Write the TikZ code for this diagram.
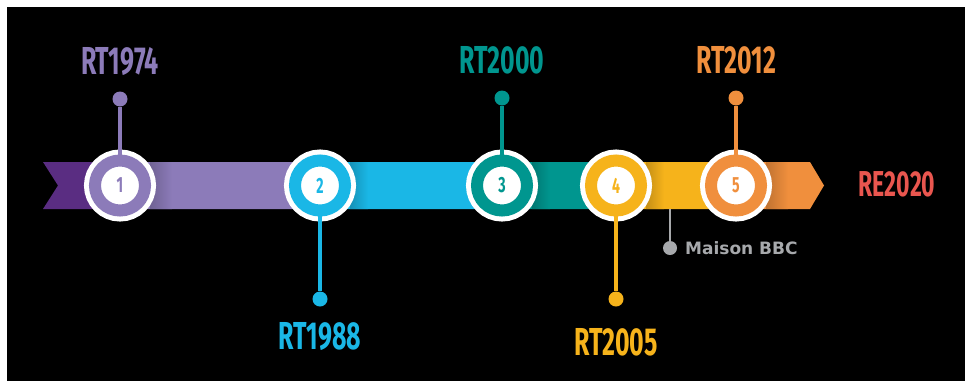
\documentclass[tikz,border=0pt]{standalone}
\usepackage{fontspec}
\newfontfamily\condfont[FakeStretch=0.64]{Fira Sans}
\newfontfamily\bbcfont{DejaVu Sans}
\usetikzlibrary{positioning}
\definecolor{purpD}{HTML}{5A2D82}
\definecolor{purpL}{HTML}{8C7BB9}
\definecolor{cyanC}{HTML}{1AB7E6}
\definecolor{tealC}{HTML}{00968F}
\definecolor{yellC}{HTML}{F6B31B}
\definecolor{orngC}{HTML}{F08F3D}
\definecolor{grayC}{HTML}{A7A9AC}
\definecolor{redC}{HTML}{E9564F}

\begin{document}
\begin{tikzpicture}[x=1pt,y=-1pt,
  ring/.style={circle, fill=white, draw=white, double=#1, double distance=12pt,
    line width=5pt, minimum size=50pt, inner sep=0pt, text=#1,
    font=\condfont\bfseries\fontsize{22}{22}\selectfont},
  stem/.style={draw=#1, line width=4.5pt},
  dot/.style={circle, fill=#1, minimum size=15pt, inner sep=0pt},
  year/.style={text=#1, inner sep=0pt,
    font=\condfont\bfseries\fontsize{39}{39}\selectfont},
  node distance=16pt]

\fill[white] (0,0) rectangle (965,381);
\fill[black] (7,7) rectangle (965,381);

% band
\begin{scope}
  \clip (43,162) -- (810,162) -- (824,185.5) -- (810,209) -- (43,209) -- (58,185.5) -- cycle;
  \fill[purpD] (40,150) rectangle (120,220);
  \fill[purpL] (120,150) rectangle (320,220);
  \shade[left color=purpL!80!black, right color=purpL] (150,150) rectangle (172,220);
  \fill[cyanC] (320,150) rectangle (502,220);
  \shade[left color=cyanC!80!black, right color=cyanC] (350,150) rectangle (368,220);
  \fill[tealC] (502,150) rectangle (616,220);
  \shade[left color=tealC!80!black, right color=tealC] (532,150) rectangle (550,220);
  \fill[yellC] (616,150) rectangle (736,220);
  \shade[left color=yellC!80!black, right color=yellC] (646,150) rectangle (664,220);
  \fill[orngC] (736,150) rectangle (830,220);
  \shade[left color=orngC!80!black, right color=orngC] (766,150) rectangle (788,220);
\end{scope}

% milestones
\node[ring=purpL] (c1) at (120,185.5) {1};
\node[ring=cyanC] (c2) at (320,185.5) {2};
\node[ring=tealC] (c3) at (502,185.5) {3};
\node[ring=yellC] (c4) at (616,185.5) {4};
\node[ring=orngC] (c5) at (736,185.5) {5};

\node[dot=purpL] (d1) at (120,99) {};
\node[dot=cyanC] (d2) at (320,299) {};
\node[dot=tealC] (d3) at (502,98) {};
\node[dot=yellC] (d4) at (616,299) {};
\node[dot=orngC] (d5) at (736,98) {};

\draw[stem=purpL] (d1) -- ([yshift=29pt]c1.center);
\draw[stem=cyanC] (d2) -- ([yshift=-29pt]c2.center);
\draw[stem=tealC] (d3) -- ([yshift=29pt]c3.center);
\draw[stem=yellC] (d4) -- ([yshift=-29pt]c4.center);
\draw[stem=orngC] (d5) -- ([yshift=29pt]c5.center);

\node[year=purpL, above=16pt of d1] (y1) {RT1974};
\node[year=cyanC, below=16pt of d2] (y2) {RT1988};
\node[year=tealC, above=16pt of d3] (y3) {RT2000};
\node[year=yellC, below=22pt of d4] (y4) {RT2005};
\node[year=orngC, above=16pt of d5] (y5) {RT2012};

% side note
\coordinate (m0) at (670,209);
\node[dot=grayC, minimum size=14pt] (dm) at (670,248) {};
\draw[grayC, line width=2.2pt] (m0) -- (dm);
\node[anchor=west, inner sep=0pt, text=grayC,
  font=\bbcfont\bfseries\fontsize{17}{17}\selectfont] (bbc) at (685,248) {Maison BBC};

\node[year=redC, font=\condfont\bfseries\fontsize{36}{36}\selectfont] (re) at (897,184) {RE2020};
\end{tikzpicture}
\end{document}
